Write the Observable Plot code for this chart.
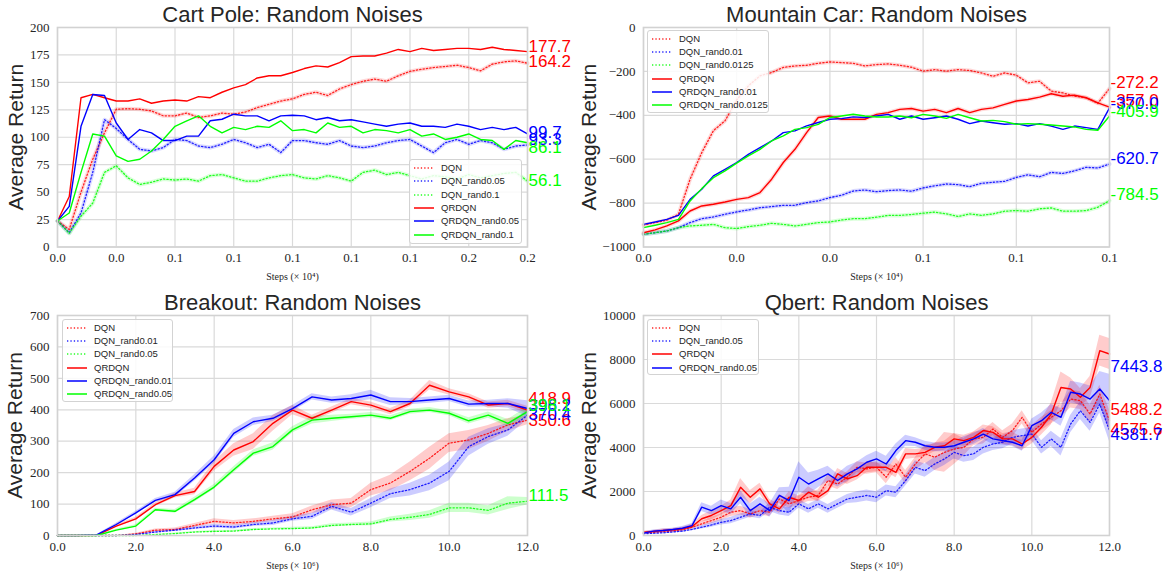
<!DOCTYPE html>
<html><head><meta charset="utf-8">
<script src="https://cdn.jsdelivr.net/npm/d3@7"></script>
<script src="https://cdn.jsdelivr.net/npm/@observablehq/plot@0.6"></script>
<style>
body{margin:0;background:#fff;}
#wrap{position:relative;width:1167px;height:574px;overflow:hidden;background:#fff;}
.panel{position:absolute;}
.legend{position:absolute;border:1px solid #d3d3d3;border-radius:3px;background:rgba(255,255,255,0.85);font-family:"Liberation Sans",Arial,sans-serif;font-size:9.5px;color:#262626;box-sizing:border-box;}
.legend .row{position:absolute;left:0;height:12px;line-height:12px;white-space:nowrap;}
.legend svg{position:absolute;left:3px;top:0;}
.legend span{position:absolute;left:31px;top:0;}
</style></head><body><div id="wrap"></div><script>
// ---------------- Cart Pole ----------------
const cpX = d3.range(41).map(i => i * 0.005);
const cpXTicks = [0, 0.025, 0.05, 0.075, 0.1, 0.125, 0.15, 0.175, 0.2];
const cpXTickLabels = ["0.0","0.0","0.1","0.1","0.1","0.1","0.1","0.2","0.2"];
const cpYTicks = [0,25,50,75,100,125,150,175,200];
const cpYTickLabels = ["0","25","50","75","100","125","150","175","200"];
const cpDQN = [23.7,16,50,80,104,125.5,126,125.5,124,119.5,119.5,122,118,119.5,122,121,123,127,130,133,135,139,141,138,144,148,151,153,151,156,160,162,163.5,164.5,165.6,163.5,160.5,166.6,168.7,169.6,167.5];
const cpDQN005 = [23.7,13,31,68,116,108,98,89,87.5,90.6,98,97,92,90.6,93.6,98,95,90.6,93.6,86,97,97,95,93.6,97,92,90.6,92,95,97,98,92,86,95,98,93.6,97,95,89,92,93];
const cpDQN01 = [23.7,12.5,28,40,68,74,63,57,59,62,61,62,60,65,66,63,60,60,63,65,66,63,62,65,63,60,68,70,66,68,65,62,65,64,62,66,63,65,67,68,60];
const cpQR = [23.7,46,136,139,136,133,133,135,131,133,134,133,137,136,141,145,148,154,156,156,159,162.6,165,164,168,173.5,174,174,176.6,180,178,181,179,180,181,181,180,182,180,179,178];
const cpQR005 = [23.7,37,110,139,138,113,98,107,104,97,97,101,101,115,116.4,121,119.5,119.5,115,119.5,120,119.5,116,118,115,116,114,112,110,112,113,110,110,109,112,110,107,109,107,109,103];
const cpQR01 = [23.7,31,68,103,101,83,78,80,87.5,98,110,115,119.5,110,104,109,107,110,109,115,106,107,104,113,109,110,104,107,106,104,107,101,103,98,100,103,98,97,89,97,95];
const cpNames = ["DQN","DQN_rand0.05","DQN_rand0.1","QRDQN","QRDQN_rand0.05","QRDQN_rand0.1"];
const cpEndLabels = [164.2, 93.3, 56.1, 177.7, 99.7, 86.1];

// ---------------- Mountain Car ----------------
const mcX = d3.range(41).map(i => i * 0.0025);
const mcXTicks = [0, 0.02, 0.04, 0.06, 0.08, 0.1];
const mcXTickLabels = ["0.0","0.0","0.0","0.1","0.1","0.1"];
const mcYTicks = [-1000,-800,-600,-400,-200,0];
const mcYTickLabels = ["\u22121000","\u2212800","\u2212600","\u2212400","\u2212200","0"];
const mcDQN = [-900,-889,-878,-851,-691,-570,-470,-425,-330,-266,-220,-205,-182,-175,-172,-163,-157,-160,-163,-175,-169,-166,-172,-181,-199,-192,-199,-192,-196,-207,-222,-207,-217,-252,-245,-290,-298,-313,-320,-345,-278];
const mcDQN001 = [-942,-935,-927,-912,-889,-871,-863,-851,-840,-831,-821,-816,-810,-810,-798,-790,-775,-764,-745,-740,-748,-743,-740,-746,-731,-721,-713,-716,-725,-710,-705,-701,-683,-671,-680,-660,-665,-653,-637,-640,-622];
const mcDQN00125 = [-942,-935,-927,-912,-904,-901,-897,-912,-916,-907,-901,-892,-897,-904,-897,-889,-886,-877,-871,-871,-864,-856,-856,-852,-846,-841,-849,-861,-849,-856,-849,-837,-834,-837,-826,-822,-837,-837,-834,-819,-789];
const mcQR = [-935,-922,-904,-881,-836,-813,-805,-795,-783,-775,-752,-691,-615,-555,-479,-410,-403,-418,-418,-418,-396,-388,-373,-369,-381,-373,-388,-369,-388,-373,-366,-350,-335,-328,-317,-302,-313,-308,-320,-343,-363];
const mcQR001 = [-897,-886,-874,-856,-783,-737,-676,-646,-615,-578,-547,-517,-479,-471,-448,-433,-418,-415,-407,-410,-403,-396,-418,-403,-418,-411,-403,-418,-438,-426,-434,-441,-438,-449,-438,-449,-464,-449,-456,-464,-366];
const mcQR00125 = [-912,-901,-889,-874,-790,-734,-684,-653,-618,-585,-555,-517,-494,-464,-456,-441,-410,-403,-395,-403,-408,-408,-403,-411,-396,-403,-414,-396,-411,-426,-423,-429,-441,-438,-441,-444,-449,-453,-464,-468,-403];
const mcNames = ["DQN","DQN_rand0.01","DQN_rand0.0125","QRDQN","QRDQN_rand0.01","QRDQN_rand0.0125"];
const mcEndLabels = [-272.2, -620.7, -784.5, -357.0, -370.0, -405.9];

// ---------------- Breakout ----------------
const boX = d3.range(25).map(i => i * 0.5);
const boXTicks = [0,2,4,6,8,10,12];
const boXTickLabels = ["0.0","2.0","4.0","6.0","8.0","10.0","12.0"];
const boYTicks = [0,100,200,300,400,500,600,700];
const boYTickLabels = ["0","100","200","300","400","500","600","700"];
const boDQN = [0,0,0,0,5,17,19,32,45,40,45,53,59,82,98,103,146,167,204,246,294,304,325,352,367];
const boDQN001 = [0,0,0,0,3,11,17,24,30,27,35,40,53,61,93,74,103,133,146,167,204,283,315,336,383];
const boDQN005 = [0,0,0,0,0,3,6,11,13,14,19,21,22,24,32,35,37,51,58,67,88,88,80,103,109];
const boQR = [0,0,0.5,30,53,98,127,140,220,272,299,357,399,373,399,426,415,394,420,478,457,441,415,420,399];
const boQR001 = [0,0,2,35,72,112,130,183,241,325,362,373,404,441,431,436,447,426,426,431,436,418,420,420,404];
const boQR005 = [0,0,0,17,30,82,77,114,154,209,262,283,336,367,373,378,383,373,394,399,389,365,383,357,394];
const boBandDQN = [0,0,0,0,2,4,5,6,8,8,8,8,10,12,15,15,20,25,30,35,30,30,25,20,15];
const boBandDQN001 = [0,0,0,0,2,3,4,5,6,6,6,8,8,10,12,12,15,15,20,25,30,30,25,20,15];
const boBandDQN005 = [0,0,0,0,0,1,2,2,3,3,3,3,4,4,5,5,6,8,10,12,15,15,15,20,12];
const boBandQR = [0,0,0,4,5,6,8,10,15,20,25,25,15,10,10,10,10,10,10,15,10,10,10,10,12];
const boBandQR001 = [0,0,0,4,5,6,8,10,12,12,12,10,10,10,10,12,15,12,10,10,10,10,10,15,25];
const boBandQR005 = [0,0,0,3,4,5,6,8,8,10,10,12,10,12,10,8,8,8,8,8,8,10,10,12,15];
const boNames = ["DQN","DQN_rand0.01","DQN_rand0.05","QRDQN","QRDQN_rand0.01","QRDQN_rand0.05"];
const boEndLabels = [350.6, 370.4, 111.5, 418.9, 396.2, 398.1];

// ---------------- Qbert ----------------
const qbX = d3.range(49).map(i => i * 0.25);
const qbXTicks = [0,2,4,6,8,10,12];
const qbXTickLabels = ["0.0","2.0","4.0","6.0","8.0","10.0","12.0"];
const qbYTicks = [0,2000,4000,6000,8000,10000];
const qbYTickLabels = ["0","2000","4000","6000","8000","10000"];
const qbDQN = [110,140,170,210,260,380,530,680,830,1060,1130,980,1130,1060,1660,1440,1590,1740,1820,2500,2340,2650,3100,3030,3100,2650,3250,2650,3250,3710,3560,3780,3930,4010,4390,4460,4840,4460,4770,5370,4690,5070,5370,5670,6200,6130,5520,6430,5220];
const qbDQN005 = [80,100,120,160,200,280,380,480,600,680,830,980,910,1290,1130,1060,1440,1210,1440,1210,1440,1660,1740,1820,1740,2040,1970,2500,3100,2950,3250,3480,3780,3630,3710,4010,4160,4240,4460,4540,4610,4010,4390,4010,5070,5670,5140,5970,4770];
const qbQR = [150,180,230,260,300,410,760,910,1130,1360,2190,1740,2120,1440,1210,1740,1590,1970,1740,2040,2800,2570,2720,3100,3100,3100,2870,3710,3710,3780,4010,4080,4390,4310,4460,4770,4690,4390,4390,4160,4460,4920,5520,6730,6660,6280,6730,8400,8250];
const qbQR005 = [110,200,230,270,330,450,1290,1130,1360,1210,1740,1130,1440,1130,1820,1590,2650,2340,2570,2800,2500,2800,3030,3330,3480,3250,3860,4310,4240,4080,4010,4010,4080,4240,4390,4610,4390,4310,4240,4080,4990,5220,5600,5370,6510,6430,6200,6660,6130];
const qbBandDQN = [30,30,40,50,60,80,100,150,150,200,200,200,200,200,200,200,200,200,250,250,250,250,250,250,250,300,300,300,300,400,600,900,700,400,300,300,300,300,300,300,300,300,300,300,400,400,400,400,500];
const qbBandDQN005 = [20,20,30,40,50,60,80,100,120,150,150,150,150,200,200,200,200,200,200,200,200,200,250,250,250,250,250,250,300,300,300,300,300,300,300,300,300,300,300,300,300,300,350,400,400,400,400,400,500];
const qbBandQR = [50,50,60,60,80,100,150,200,200,250,400,300,250,200,200,250,200,250,200,200,250,250,200,250,200,200,250,250,200,200,200,200,250,250,250,250,250,250,300,300,300,350,500,700,500,400,500,700,700];
const qbBandQR005 = [50,50,60,60,80,100,200,200,250,250,300,300,300,300,350,600,700,500,400,350,300,350,300,300,350,350,300,250,200,200,200,200,200,250,250,250,250,200,200,250,300,350,350,400,500,500,600,800,1200];
const qbNames = ["DQN","DQN_rand0.05","QRDQN","QRDQN_rand0.05"];
const qbEndLabels = [4575.6, 4381.7, 5488.2, 7443.8];

// ---------------- rendering ----------------
const RED = "#ff0000", BLUE = "#0000ff", GREEN = "#00ff00";
const SANS = "'Liberation Sans', Arial, sans-serif";
const SERIF = "'Liberation Serif', 'Times New Roman', serif";
const TXT = "#262626";

function makePanel(cfg) {
  const marks = [];
  marks.push(Plot.gridX(cfg.xTicks, {stroke: "#dadada", strokeOpacity: 1, strokeWidth: 1.2}));
  marks.push(Plot.gridY(cfg.yTicks, {stroke: "#dadada", strokeOpacity: 1, strokeWidth: 1.2}));
  cfg.series.forEach(s => {
    const rows = s.values.map((v, i) => ({x: cfg.xs[i], y: v, b: s.band ? s.band[i] : 0}));
    if (s.band) {
      marks.push(Plot.areaY(rows, {x: "x", y1: d => d.y - d.b, y2: d => d.y + d.b, fill: s.color, fillOpacity: 0.2, curve: "linear"}));
    }
    if (s.glow) {
      marks.push(Plot.line(rows, {x: "x", y: "y", stroke: s.color, strokeWidth: 4, strokeOpacity: 0.15}));
    }
  });
  cfg.series.forEach(s => {
    const rows = s.values.map((v, i) => ({x: cfg.xs[i], y: v}));
    marks.push(Plot.line(rows, {
      x: "x", y: "y", stroke: s.color,
      strokeWidth: s.dotted ? 1.3 : 1.4,
      strokeOpacity: s.dotted ? 0.85 : 1,
      strokeDasharray: s.dotted ? "1.3,2.1" : null,
      strokeLinejoin: "round"
    }));
  });
  marks.push(Plot.frame({stroke: "#d2d2d2", strokeWidth: 1.6}));
  marks.push(Plot.axisX(cfg.xTicks, {tickSize: 0, tickPadding: 6, label: null,
    tickFormat: d => cfg.xTickLabels[cfg.xTicks.indexOf(d)], fontFamily: SERIF, fontSize: 13, fill: TXT}));
  marks.push(Plot.axisY(cfg.yTicks, {tickSize: 0, tickPadding: 8, label: null,
    tickFormat: d => cfg.yTickLabels[cfg.yTicks.indexOf(d)], fontFamily: SERIF, fontSize: 13, fill: TXT}));
  // end labels
  const endRows = cfg.series.map((s, i) => ({y: cfg.endLabels[i], t: cfg.endLabels[i].toFixed(1), c: s.color}));
  marks.push(Plot.text(endRows, {x: cfg.xDomain[1], y: "y", text: "t", fill: "c", dx: 1, dy: -5,
    textAnchor: "start", lineAnchor: "middle", fontSize: 17, fontFamily: SANS}));
  marks.push(Plot.text([cfg.title], {text: d => d, frameAnchor: "top", dy: cfg.titleDy, lineAnchor: "middle",
    textAnchor: "middle", fontSize: 22, fontFamily: SANS, fill: TXT}));
  marks.push(Plot.text(["Average Return"], {text: d => d, frameAnchor: "left", dx: cfg.ylabDx, rotate: -90,
    textAnchor: "middle", lineAnchor: "middle", fontSize: 21, fontFamily: SANS, fill: TXT}));
  marks.push(Plot.text([cfg.xlabel], {text: d => d, frameAnchor: "bottom", dy: cfg.xlabDy, lineAnchor: "middle",
    textAnchor: "middle", fontSize: 10, fontFamily: SERIF, fill: TXT}));

  const svg = Plot.plot({
    width: cfg.width, height: cfg.height,
    marginTop: cfg.m[0], marginRight: cfg.m[1], marginBottom: cfg.m[2], marginLeft: cfg.m[3],
    x: {domain: cfg.xDomain, axis: null},
    y: {domain: cfg.yDomain, axis: null},
    style: {background: "transparent", color: TXT, overflow: "visible"},
    marks
  });
  const div = document.createElement("div");
  div.className = "panel";
  div.style.left = cfg.left + "px";
  div.style.top = cfg.top + "px";
  div.appendChild(svg);
  document.getElementById("wrap").appendChild(div);

  // legend
  const lg = cfg.legend;
  const box = document.createElement("div");
  box.className = "legend";
  box.style.left = lg.left + "px"; box.style.top = lg.top + "px";
  box.style.width = lg.width + "px"; box.style.height = lg.height + "px";
  cfg.series.forEach((s, i) => {
    const row = document.createElement("div");
    row.className = "row";
    row.style.top = (lg.first - 6 + i * lg.step) + "px";
    row.style.width = (lg.width - 2) + "px";
    const dash = s.dotted ? 'stroke-dasharray="1.3,2.1"' : '';
    row.innerHTML = `<svg width="22" height="12"><line x1="1" x2="21" y1="6" y2="6" stroke="${s.color}" stroke-width="${s.dotted ? 1.3 : 1.5}" stroke-opacity="${s.dotted ? 0.85 : 1}" ${dash}/></svg><span>${cfg.names[i]}</span>`;
    box.appendChild(row);
  });
  document.getElementById("wrap").appendChild(box);
}

makePanel({
  left: 0, top: 0, width: 583, height: 287, m: [27, 56, 40.5, 57],
  xs: cpX, xDomain: [0, 0.2], yDomain: [0, 200],
  xTicks: cpXTicks, xTickLabels: cpXTickLabels, yTicks: cpYTicks, yTickLabels: cpYTickLabels,
  title: "Cart Pole: Random Noises", titleDy: -13, ylabDx: -41.5, xlabDy: 29.5, xlabel: "Steps (\u00d7 10\u2074)",
  names: cpNames, endLabels: cpEndLabels,
  series: [
    {values: cpDQN, color: RED, dotted: true, glow: true},
    {values: cpDQN005, color: BLUE, dotted: true, glow: true},
    {values: cpDQN01, color: GREEN, dotted: true, glow: true},
    {values: cpQR, color: RED},
    {values: cpQR005, color: BLUE},
    {values: cpQR01, color: GREEN}
  ],
  legend: {left: 409, top: 159, width: 113, height: 85, first: 8, step: 13.3}
});

makePanel({
  left: 583, top: 0, width: 584, height: 287, m: [27, 58, 40.5, 60],
  xs: mcX, xDomain: [0, 0.1], yDomain: [-1000, 0],
  xTicks: mcXTicks, xTickLabels: mcXTickLabels, yTicks: mcYTicks, yTickLabels: mcYTickLabels,
  title: "Mountain Car: Random Noises", titleDy: -13, ylabDx: -54.5, xlabDy: 29.5, xlabel: "Steps (\u00d7 10\u2074)",
  names: mcNames, endLabels: mcEndLabels,
  series: [
    {values: mcDQN, color: RED, dotted: true, glow: true},
    {values: mcDQN001, color: BLUE, dotted: true, glow: true},
    {values: mcDQN00125, color: GREEN, dotted: true, glow: true},
    {values: mcQR, color: RED, glow: true},
    {values: mcQR001, color: BLUE},
    {values: mcQR00125, color: GREEN}
  ],
  legend: {left: 647, top: 30, width: 122, height: 83, first: 7.7, step: 13.3}
});

makePanel({
  left: 0, top: 287, width: 583, height: 287, m: [28, 56, 39, 57],
  xs: boX, xDomain: [0, 12], yDomain: [0, 700],
  xTicks: boXTicks, xTickLabels: boXTickLabels, yTicks: boYTicks, yTickLabels: boYTickLabels,
  title: "Breakout: Random Noises", titleDy: -12.3, ylabDx: -42, xlabDy: 30, xlabel: "Steps (\u00d7 10\u2076)",
  names: boNames, endLabels: boEndLabels,
  series: [
    {values: boDQN, color: RED, dotted: true, band: boBandDQN},
    {values: boDQN001, color: BLUE, dotted: true, band: boBandDQN001},
    {values: boDQN005, color: GREEN, dotted: true, band: boBandDQN005},
    {values: boQR, color: RED, band: boBandQR},
    {values: boQR001, color: BLUE, band: boBandQR001},
    {values: boQR005, color: GREEN, band: boBandQR005}
  ],
  legend: {left: 62, top: 319, width: 111, height: 83, first: 7.7, step: 13.3}
});

makePanel({
  left: 583, top: 287, width: 584, height: 287, m: [28, 58, 39, 60],
  xs: qbX, xDomain: [0, 12], yDomain: [0, 10000],
  xTicks: qbXTicks, xTickLabels: qbXTickLabels, yTicks: qbYTicks, yTickLabels: qbYTickLabels,
  title: "Qbert: Random Noises", titleDy: -12.3, ylabDx: -54.4, xlabDy: 30, xlabel: "Steps (\u00d7 10\u2076)",
  names: qbNames, endLabels: qbEndLabels,
  series: [
    {values: qbDQN, color: RED, dotted: true, band: qbBandDQN},
    {values: qbDQN005, color: BLUE, dotted: true, band: qbBandDQN005},
    {values: qbQR, color: RED, band: qbBandQR},
    {values: qbQR005, color: BLUE, band: qbBandQR005}
  ],
  legend: {left: 647, top: 319, width: 112, height: 56, first: 7.7, step: 13.3}
});
</script></body></html>
